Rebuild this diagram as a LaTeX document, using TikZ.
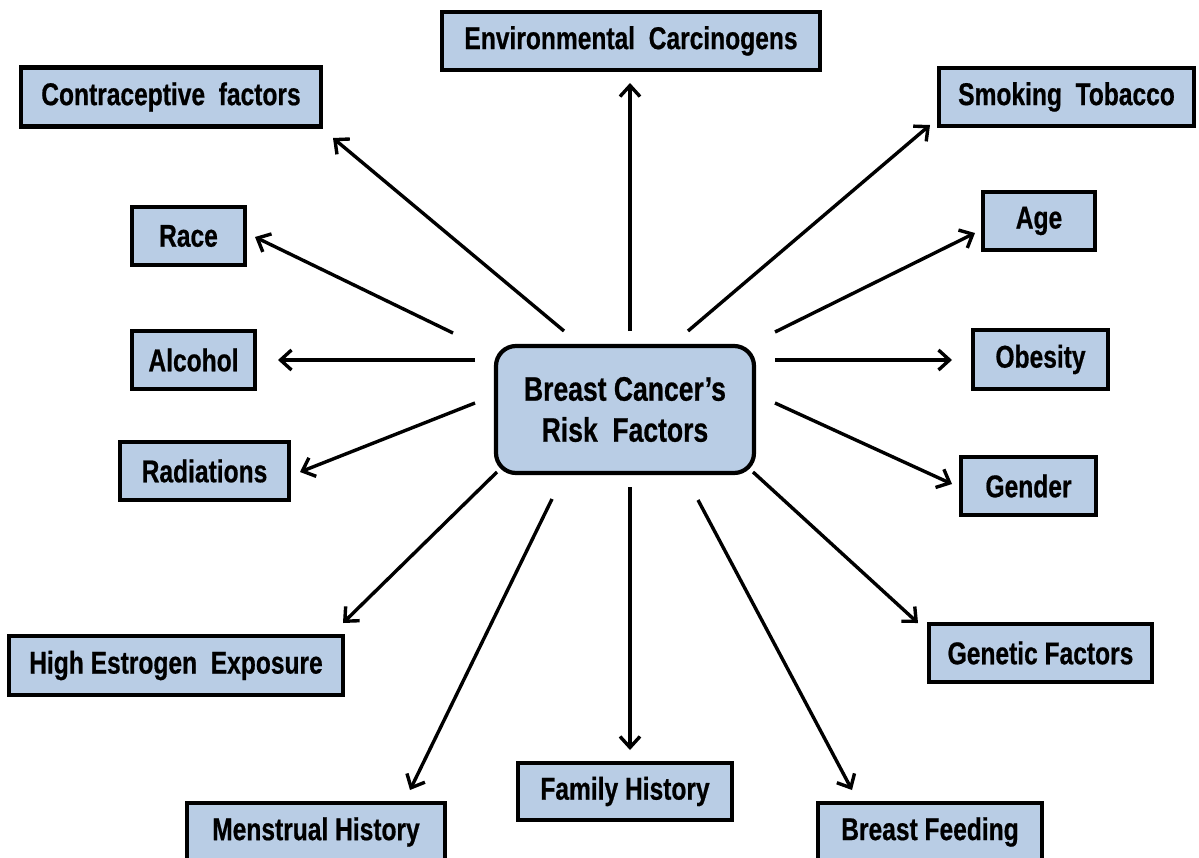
\documentclass[tikz,border=0pt]{standalone}
\usepackage{fontspec}
\newfontfamily\labfont{Liberation Sans}[FakeStretch=0.78, BoldFeatures={FakeBold=0.6}]
\usetikzlibrary{arrows.meta}
\definecolor{boxblue}{HTML}{B9CDE5}
\tikzset{
  fbox/.style={draw=black, line width=4.2pt, fill=boxblue, inner sep=0pt,
    align=center, font=\labfont\bfseries\fontsize{31.5}{41}\selectfont},
  cbox/.style={fbox, rounded corners=20pt, font=\labfont\bfseries\fontsize{34}{41}\selectfont},
  link/.style={line width=3.4pt, -{Straight Barb[length=11pt,width=20pt]}},
}
\begin{document}
\begin{tikzpicture}[x=1pt,y=-1pt]
\useasboundingbox (0,0) rectangle (1199,857);
% boxes
\node[cbox, minimum width=258pt, minimum height=127pt] (c) at (625,409.5) {Breast Cancer’s\\Risk\ \ Factors};
\node[fbox, minimum width=378pt, minimum height=58pt] (env) at (631,41) {Environmental\ \ Carcinogens};
\node[fbox, minimum width=300pt, minimum height=59pt] (contra) at (171,97) {Contraceptive\ \ factors};
\node[fbox, minimum width=255pt, minimum height=58pt] (smoke) at (1066.5,97) {Smoking\ \ Tobacco};
\node[fbox, minimum width=113pt, minimum height=58pt] (race) at (188.5,236) {Race};
\node[fbox, minimum width=112pt, minimum height=58pt] (age) at (1039,221) {Age};
\node[fbox, minimum width=123pt, minimum height=58pt] (alcohol) at (193.5,360) {Alcohol};
\node[fbox, minimum width=135pt, minimum height=59pt] (obesity) at (1040.5,359.5) {Obesity};
\node[fbox, minimum width=169pt, minimum height=58pt] (rad) at (204.5,471) {Radiations};
\node[fbox, minimum width=135pt, minimum height=58pt] (gender) at (1028.5,486) {Gender};
\node[fbox, minimum width=334pt, minimum height=59pt] (estro) at (176,665.5) {High Estrogen\ \ Exposure};
\node[fbox, minimum width=223pt, minimum height=58pt] (genetic) at (1040.5,653) {Genetic Factors};
\node[fbox, minimum width=214pt, minimum height=57pt] (family) at (625,791.5) {Family History};
\node[fbox, minimum width=258pt, minimum height=58pt] (mens) at (316,832) {Menstrual History};
\node[fbox, minimum width=224pt, minimum height=58pt] (feed) at (930,832) {Breast Feeding};
% connector ends
\coordinate (s-env) at (630,331);   \coordinate (t-env) at (630,83);
\coordinate (s-contra) at (564,331);\coordinate (t-contra) at (333,138);
\coordinate (s-smoke) at (688,331); \coordinate (t-smoke) at (930,125);
\coordinate (s-race) at (453,333);  \coordinate (t-race) at (255,237);
\coordinate (s-age) at (775,332);   \coordinate (t-age) at (975,233);
\coordinate (s-alc) at (475,360);   \coordinate (t-alc) at (278,360);
\coordinate (s-ob) at (775,360);    \coordinate (t-ob) at (952,360);
\coordinate (s-rad) at (475,403);   \coordinate (t-rad) at (300,472);
\coordinate (s-gen) at (775,403);   \coordinate (t-gen) at (952,484);
\coordinate (s-estro) at (497,472); \coordinate (t-estro) at (343,623);
\coordinate (s-genet) at (753,472); \coordinate (t-genet) at (918,623);
\coordinate (s-mens) at (552,499);  \coordinate (t-mens) at (410,790);
\coordinate (s-fam) at (630,487);   \coordinate (t-fam) at (630,750);
\coordinate (s-feed) at (698,500);  \coordinate (t-feed) at (852,790);
% connectors
\draw[link] (s-env) -- (t-env);
\draw[link] (s-contra) -- (t-contra);
\draw[link] (s-smoke) -- (t-smoke);
\draw[link] (s-race) -- (t-race);
\draw[link] (s-age) -- (t-age);
\draw[link] (s-alc) -- (t-alc);
\draw[link] (s-ob) -- (t-ob);
\draw[link] (s-rad) -- (t-rad);
\draw[link] (s-gen) -- (t-gen);
\draw[link] (s-estro) -- (t-estro);
\draw[link] (s-genet) -- (t-genet);
\draw[link] (s-mens) -- (t-mens);
\draw[link] (s-fam) -- (t-fam);
\draw[link] (s-feed) -- (t-feed);
\end{tikzpicture}
\end{document}
